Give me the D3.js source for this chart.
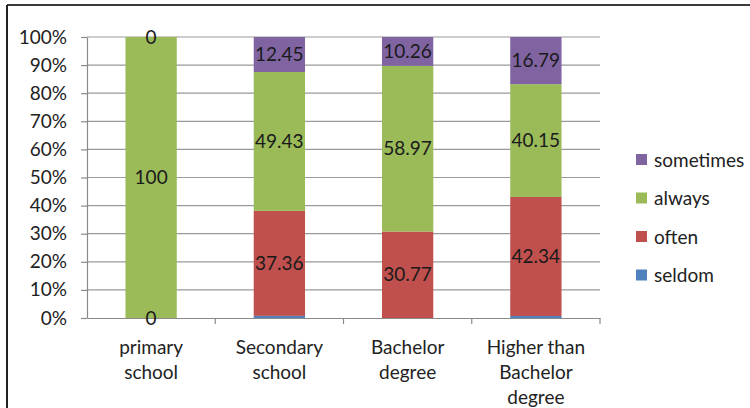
<!DOCTYPE html>
<html>
<head>
<meta charset="utf-8">
<script src="https://cdn.jsdelivr.net/npm/d3@7"></script>
<style>
  html, body { margin: 0; padding: 0; background: #fff; }
  svg { display: block; font-family: Lato, "Liberation Sans", sans-serif; }
</style>
</head>
<body>
<svg id="chart" width="750" height="408"></svg>
<script>
// Education levels (category labels are split over several lines)
const categories = ["primary school", "Secondary school", "Bachelor degree", "Higher than Bachelor degree"];
const categoryLines = [["primary", "school"], ["Secondary", "school"], ["Bachelor", "degree"], ["Higher than", "Bachelor", "degree"]];

// Series, stacked bottom to top (percent of each group)
const seriesNames = ["seldom", "often", "always", "sometimes"];
const seldom    = [0, 0.76, 0, 0.72];
const often     = [0, 37.36, 30.77, 42.34];
const always    = [100, 49.43, 58.97, 40.15];
const sometimes = [0, 12.45, 10.26, 16.79];

// Which values carry a data label
const labelShown = {
  seldom:    [true, false, false, false],
  often:     [false, true, true, true],
  always:    [true, true, true, true],
  sometimes: [true, true, true, true]
};

const yTicks = [0, 10, 20, 30, 40, 50, 60, 70, 80, 90, 100];

const colors = { seldom: "#4F81BD", often: "#C0504D", always: "#9BBB59", sometimes: "#8064A2" };

const rows = categories.map((c, i) => ({
  category: c, seldom: seldom[i], often: often[i], always: always[i], sometimes: sometimes[i]
}));

const svg = d3.select("#chart");
const plot = { left: 87, right: 600, top: 37, bottom: 318 };

const x = d3.scaleBand().domain(categories).range([plot.left, plot.right]).padding(0);
const y = d3.scaleLinear().domain([0, 100]).range([plot.bottom, plot.top]);
const barWidth = x.bandwidth() * 0.4;

// Outer frame (top and left edges)
svg.append("line").attr("x1", 7).attr("y1", 5).attr("x2", 750).attr("y2", 5)
  .attr("stroke", "#3a3a3a").attr("stroke-width", 2);
svg.append("line").attr("x1", 7).attr("y1", 5).attr("x2", 7).attr("y2", 408)
  .attr("stroke", "#222").attr("stroke-width", 2);

// Horizontal gridlines
svg.append("g").selectAll("line").data(yTicks.filter(t => t > 0)).join("line")
  .attr("x1", plot.left).attr("x2", plot.right)
  .attr("y1", d => y(d)).attr("y2", d => y(d))
  .attr("stroke", "#9a9a9a").attr("stroke-width", 1.2);

// Y axis
const yAxis = svg.append("g").attr("transform", `translate(${plot.left},0)`)
  .call(d3.axisLeft(y).tickValues(yTicks).tickFormat(d => d + "%").tickSizeInner(6).tickSizeOuter(0).tickPadding(14));
yAxis.select(".domain").attr("stroke", "#8a8a8a").attr("stroke-width", 1.2);
yAxis.selectAll(".tick line").attr("stroke", "#8a8a8a").attr("stroke-width", 1.2);
yAxis.selectAll(".tick text").attr("font-size", 19).attr("fill", "#222").attr("font-family", "Lato, sans-serif");

// Stacked bars
const stack = d3.stack().keys(seriesNames);
const layers = stack(rows);

const layerG = svg.append("g").selectAll("g").data(layers).join("g")
  .attr("fill", d => colors[d.key]);
layerG.selectAll("rect").data(d => d).join("rect")
  .attr("x", d => x(d.data.category) + (x.bandwidth() - barWidth) / 2)
  .attr("width", barWidth)
  .attr("y", d => y(d[1]))
  .attr("height", d => Math.max(0, y(d[0]) - y(d[1])));

// X axis (drawn over the bar bottoms)
const xAxis = svg.append("g").attr("transform", `translate(0,${plot.bottom})`)
  .call(d3.axisBottom(x).tickSize(0).tickFormat(""));
xAxis.select(".domain").attr("stroke", "#8a8a8a").attr("stroke-width", 1.2);
// Category boundary ticks
svg.append("g").selectAll("line").data(categories).join("line")
  .attr("x1", d => x(d) + x.bandwidth()).attr("x2", d => x(d) + x.bandwidth())
  .attr("y1", plot.bottom).attr("y2", plot.bottom + 6)
  .attr("stroke", "#8a8a8a").attr("stroke-width", 1.2);

// Category labels
const catLabels = svg.append("g").selectAll("text").data(categories).join("text")
  .attr("x", d => x(d) + x.bandwidth() / 2)
  .attr("y", 354)
  .attr("text-anchor", "middle")
  .attr("font-size", 19)
  .attr("fill", "#222");
catLabels.each(function(d, i) {
  d3.select(this).selectAll("tspan").data(categoryLines[i]).join("tspan")
    .attr("x", x(d) + x.bandwidth() / 2)
    .attr("dy", (t, j) => j === 0 ? 0 : 25)
    .text(t => t);
});

// Data labels centred in each segment
layers.forEach(layer => {
  svg.append("g").selectAll("text")
    .data(layer.filter((d, i) => labelShown[layer.key][i]))
    .join("text")
    .attr("x", d => x(d.data.category) + x.bandwidth() / 2)
    .attr("y", d => y((d[0] + d[1]) / 2))
    .attr("dy", "0.35em")
    .attr("text-anchor", "middle")
    .attr("font-size", 19)
    .attr("fill", "#1a1a1a")
    .text(d => String(d.data[layer.key]));
});

// Legend (top to bottom mirrors the stack order)
const legendItems = seriesNames.slice().reverse();
const legend = svg.append("g").selectAll("g").data(legendItems).join("g")
  .attr("transform", (d, i) => `translate(636,${160 + i * 38.5})`);
legend.append("rect").attr("x", 0).attr("y", -6).attr("width", 11).attr("height", 11)
  .attr("fill", d => colors[d]);
legend.append("text").attr("x", 18).attr("y", 0).attr("dy", "0.35em")
  .attr("font-size", 19).attr("fill", "#222").text(d => d);
</script>
</body>
</html>
